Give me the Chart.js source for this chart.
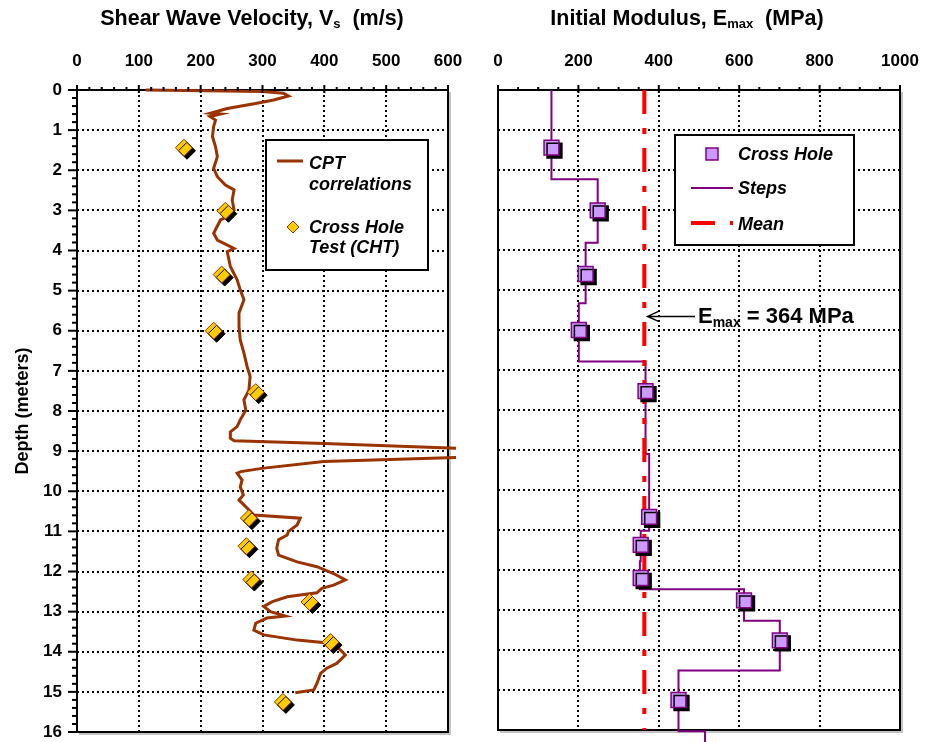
<!DOCTYPE html>
<html>
<head>
<meta charset="utf-8">
<title>Shear wave velocity and initial modulus vs depth</title>
<script src="https://cdn.jsdelivr.net/npm/chart.js@4.4.1/dist/chart.umd.min.js"></script>
<style>
  body { margin: 0; background: #fff; font-family: "Liberation Sans", Arial, sans-serif; }
  #wrap { position: relative; width: 925px; height: 742px; overflow: hidden; }
  .title { position: absolute; top: 6px; font-weight: bold; font-size: 21.5px; line-height: 25px; white-space: nowrap; transform: translateX(-50%); color: #000; }
  .title sub { font-size: 13px; vertical-align: -3px; line-height: 0; }
  #vsChart { position: absolute; left: 0; top: 0; }
  #eChart { position: absolute; left: 470px; top: 0; }
</style>
</head>
<body>
<div id="wrap">
  <canvas id="vsChart" width="470" height="742"></canvas>
  <canvas id="eChart" width="455" height="742"></canvas>
  <div class="title" style="left:252px">Shear Wave Velocity, V<sub>s</sub>&nbsp; (m/s)</div>
  <div class="title" style="left:687px">Initial Modulus, E<sub>max</sub>&nbsp; (MPa)</div>
</div>
<script>
// CPT correlation profile (depth in m, Vs in m/s)
const cptDepth = [0.0, 0.04, 0.08, 0.15, 0.25, 0.33, 0.46, 0.58, 0.6, 0.66, 0.75, 0.91, 1.16, 1.41, 1.66, 1.95,
  2.16, 2.37, 2.49, 2.74, 2.99, 3.16, 3.24, 3.57, 3.74, 3.95, 4.03, 4.4, 4.73, 4.98, 5.23, 5.56, 5.9, 6.23,
  6.56, 6.89, 7.14, 7.48, 7.72, 7.98, 8.22, 8.39, 8.52, 8.68, 8.74, 8.81, 8.93, 9.03, 9.16, 9.26, 9.43, 9.51,
  9.55, 9.72, 9.89, 10.09, 10.22, 10.34, 10.51, 10.59, 10.67, 10.84, 11.0, 11.09, 11.21, 11.42, 11.59, 11.76,
  11.88, 12.05, 12.21, 12.34, 12.42, 12.53, 12.63, 12.75, 12.87, 13.0, 13.11, 13.16, 13.29, 13.46, 13.58,
  13.71, 13.79, 13.91, 14.08, 14.29, 14.41, 14.54, 14.79, 14.95, 15.02];
const cptVs = [111, 300, 334, 342, 318, 291, 243, 216, 232, 215, 224, 221, 219, 224, 227, 221,
  227, 240, 254, 251, 254, 243, 232, 221, 227, 254, 243, 248, 259, 264, 270, 262, 262, 264,
  270, 275, 280, 278, 270, 273, 264, 259, 248, 248, 254, 399, 614, 680, 614, 399, 299, 265,
  259, 267, 264, 269, 262, 270, 281, 286, 361, 356, 342, 340, 326, 323, 326, 356,
  388, 415, 434, 415, 396, 388, 340, 316, 302, 313, 337, 307, 289, 286, 302,
  356, 410, 423, 434, 420, 404, 394, 388, 383, 353];

// Cross hole test results
const chtDepth = [1.44, 3.01, 4.6, 6.0, 7.53, 10.67, 11.37, 12.2, 12.76, 13.76, 15.25];
const chtVs = [173, 240, 234, 221, 289, 278, 274, 282, 376, 410, 333];
const chtEmax = [133, 248, 218, 201, 367, 376, 355, 355, 612, 701, 449];

// Step profile of Emax (layer boundaries and layer values)
const stepBreaks = [0, 2.23, 3.82, 5.33, 6.79, 9.1, 11.02, 11.78, 12.48, 13.27, 14.51, 16.03, 17];
const stepEmax = [133, 248, 218, 201, 367, 376, 355, 353, 612, 701, 449, 515];

const meanEmax = 364;
const meanDepths = [0, 16];

// annotation arrow (depth, tip value, tail value)
const noteDepth = 5.66, noteTip = 372, noteTail = 490;

Chart.defaults.font.family = '"Liberation Sans", Arial, sans-serif';
Chart.defaults.color = '#000';

const tickFont = { size: 17, weight: 'bold' };
const legendFont = 'italic bold 18px "Liberation Sans", Arial, sans-serif';

function drawDiamond(ctx, x, y, r, fill, stroke) {
  ctx.beginPath();
  ctx.moveTo(x, y - r); ctx.lineTo(x + r, y); ctx.lineTo(x, y + r); ctx.lineTo(x - r, y);
  ctx.closePath();
  ctx.fillStyle = fill; ctx.fill();
  ctx.strokeStyle = stroke; ctx.lineWidth = 1; ctx.stroke();
}

// keep the plot area fixed: drop the label padding chart.js adds around the axes
function fixBox(prop, size) {
  return s => {
    s[prop] = size;
    s.paddingLeft = 0; s.paddingRight = 0; s.paddingTop = 0; s.paddingBottom = 0;
  };
}

// frame + hand drawn tick marks (major / minor)
const axisDecor = {
  id: 'axisDecor',
  beforeDatasetsDraw(chart) {
    const { ctx, chartArea: a } = chart;
    ctx.save();
    ctx.strokeStyle = '#c4c4c4'; ctx.lineWidth = 2;
    ctx.beginPath();
    ctx.moveTo(a.right + 2, a.top + 2); ctx.lineTo(a.right + 2, a.bottom + 2); ctx.lineTo(a.left + 2, a.bottom + 2);
    ctx.stroke();
    ctx.strokeStyle = '#000'; ctx.lineWidth = 2;
    ctx.strokeRect(a.left, a.top, a.right - a.left, a.bottom - a.top);
    ctx.restore();
  },
  afterDraw(chart, args, opts) {
    const { ctx, chartArea: a, scales } = chart;
    ctx.save();
    ctx.strokeStyle = '#000'; ctx.lineWidth = 2;
    const x = scales.x;
    for (let v = x.min; v <= x.max + 1e-6; v += opts.xMinor) {
      const major = Math.abs(v / opts.xMajor - Math.round(v / opts.xMajor)) < 1e-6;
      const px = x.getPixelForValue(v);
      ctx.beginPath();
      ctx.moveTo(px, a.top - (major ? 5 : 3));
      ctx.lineTo(px, a.top + (major ? 3 : 1));
      ctx.stroke();
    }
    if (opts.yMinor) {
      const y = scales.y;
      for (let v = y.min; v <= y.max + 1e-6; v += opts.yMinor) {
        const major = Math.abs(v - Math.round(v)) < 1e-6;
        const py = y.getPixelForValue(v);
        ctx.beginPath();
        ctx.moveTo(a.left - (major ? 9 : 5), py);
        ctx.lineTo(a.left, py);
        ctx.stroke();
      }
    }
    ctx.restore();
  }
};

// solid black drop shadow behind the markers
const markShadow = {
  id: 'markShadow',
  beforeDatasetDraw(chart, args) {
    if (chart.data.datasets[args.index].dropShadow) {
      const ctx = chart.ctx;
      ctx.save();
      ctx.shadowColor = '#000'; ctx.shadowOffsetX = 3; ctx.shadowOffsetY = 3; ctx.shadowBlur = 0;
    }
  },
  afterDatasetDraw(chart, args) {
    if (chart.data.datasets[args.index].dropShadow) chart.ctx.restore();
  }
};

const vsLegend = {
  id: 'vsLegend',
  afterDatasetsDraw(chart) {
    const { ctx, chartArea: a } = chart;
    const bx = a.left + 189, by = a.top + 50;
    ctx.save();
    ctx.fillStyle = '#fff'; ctx.fillRect(bx, by, 162, 130);
    ctx.strokeStyle = '#000'; ctx.lineWidth = 2; ctx.strokeRect(bx, by, 162, 130);
    ctx.strokeStyle = '#993300'; ctx.lineWidth = 3;
    ctx.beginPath(); ctx.moveTo(bx + 11, by + 21); ctx.lineTo(bx + 37, by + 21); ctx.stroke();
    drawDiamond(ctx, bx + 27, by + 87, 6, '#FFCC00', '#993300');
    ctx.fillStyle = '#000'; ctx.font = legendFont; ctx.textBaseline = 'alphabetic';
    ctx.fillText('CPT', bx + 43, by + 29);
    ctx.fillText('correlations', bx + 43, by + 50);
    ctx.fillText('Cross Hole', bx + 43, by + 93);
    ctx.fillText('Test (CHT)', bx + 43, by + 113);
    ctx.restore();
  }
};

const eLegend = {
  id: 'eLegend',
  afterDatasetsDraw(chart) {
    const { ctx, chartArea: a } = chart;
    const bx = a.left + 177, by = a.top + 45;
    ctx.save();
    ctx.fillStyle = '#fff'; ctx.fillRect(bx, by, 179, 110);
    ctx.strokeStyle = '#000'; ctx.lineWidth = 2; ctx.strokeRect(bx, by, 179, 110);
    ctx.fillStyle = '#CC99FF'; ctx.fillRect(bx + 31, by + 13, 12, 12);
    ctx.strokeStyle = '#800080'; ctx.lineWidth = 1.5; ctx.strokeRect(bx + 31, by + 13, 12, 12);
    ctx.strokeStyle = '#800080'; ctx.lineWidth = 2;
    ctx.beginPath(); ctx.moveTo(bx + 16, by + 53); ctx.lineTo(bx + 58, by + 53); ctx.stroke();
    ctx.strokeStyle = '#FF0000'; ctx.lineWidth = 4;
    ctx.beginPath(); ctx.moveTo(bx + 16, by + 88); ctx.lineTo(bx + 40, by + 88);
    ctx.moveTo(bx + 55, by + 88); ctx.lineTo(bx + 58, by + 88); ctx.stroke();
    ctx.fillStyle = '#000'; ctx.font = legendFont; ctx.textBaseline = 'alphabetic';
    ctx.fillText('Cross Hole', bx + 63, by + 25);
    ctx.fillText('Steps', bx + 63, by + 59);
    ctx.fillText('Mean', bx + 63, by + 95);
    ctx.restore();
  }
};

const meanNote = {
  id: 'meanNote',
  afterDatasetsDraw(chart) {
    const { ctx, scales: { x, y } } = chart;
    const py = y.getPixelForValue(noteDepth);
    const tip = x.getPixelForValue(noteTip), tail = x.getPixelForValue(noteTail);
    ctx.save();
    ctx.strokeStyle = '#000'; ctx.lineWidth = 1.5;
    ctx.beginPath();
    ctx.moveTo(tail, py); ctx.lineTo(tip, py);
    ctx.moveTo(tip + 11, py - 5); ctx.lineTo(tip, py); ctx.lineTo(tip + 11, py + 5);
    ctx.stroke();
    ctx.fillStyle = '#000'; ctx.textBaseline = 'alphabetic';
    let tx = tail + 3;
    ctx.font = 'bold 22px "Liberation Sans", Arial, sans-serif';
    ctx.fillText('E', tx, py + 7);
    tx += ctx.measureText('E').width;
    ctx.font = 'bold 14px "Liberation Sans", Arial, sans-serif';
    ctx.fillText('max', tx, py + 11);
    tx += ctx.measureText('max').width;
    ctx.font = 'bold 22px "Liberation Sans", Arial, sans-serif';
    ctx.fillText(' = ' + meanEmax + ' MPa', tx, py + 7);
    ctx.restore();
  }
};

function gridOpts() {
  return { color: '#000', lineWidth: 2, drawTicks: false };
}
const dotted = { display: false, dash: [2, 3] };
const plainNumber = v => String(v);

new Chart(document.getElementById('vsChart'), {
  type: 'scatter',
  data: {
    datasets: [{
      label: 'Cross Hole Test (CHT)',
      data: chtDepth.map((d, i) => ({ x: chtVs[i], y: d })),
      pointStyle: 'rectRot',
      pointRadius: 8.5,
      backgroundColor: '#FFCC00',
      borderColor: '#993300',
      borderWidth: 1,
      dropShadow: true,
      order: 0
    }, {
      label: 'CPT correlations',
      data: cptDepth.map((d, i) => ({ x: cptVs[i], y: d })),
      showLine: true,
      borderColor: '#993300',
      borderWidth: 3,
      pointRadius: 0,
      tension: 0,
      clip: 8,
      order: 1
    }]
  },
  options: {
    responsive: false,
    animation: false,
    layout: { padding: { left: 0, top: 0, right: 22, bottom: 10 } },
    plugins: {
      legend: { display: false },
      tooltip: { enabled: false },
      axisDecor: { xMinor: 20, xMajor: 100, yMinor: 0.2 }
    },
    scales: {
      x: {
        type: 'linear', position: 'top', min: 0, max: 600,
        ticks: { stepSize: 100, padding: 18, font: tickFont, color: '#000', callback: plainNumber },
        grid: gridOpts(), border: dotted,
        afterFit: fixBox('height', 90)
      },
      y: {
        type: 'linear', reverse: true, min: 0, max: 16,
        ticks: { stepSize: 1, padding: 15, font: tickFont, color: '#000', callback: plainNumber },
        grid: gridOpts(), border: dotted,
        title: { display: true, text: 'Depth (meters)', color: '#000', font: { size: 18, weight: 'bold' }, padding: { top: 12, bottom: 0 } },
        afterFit: fixBox('width', 77)
      }
    }
  },
  plugins: [axisDecor, markShadow, vsLegend]
});

const stepPoints = [];
stepEmax.forEach((v, i) => {
  stepPoints.push({ x: v, y: stepBreaks[i] }, { x: v, y: stepBreaks[i + 1] });
});

new Chart(document.getElementById('eChart'), {
  type: 'scatter',
  data: {
    datasets: [{
      label: 'Cross Hole',
      data: chtDepth.map((d, i) => ({ x: chtEmax[i], y: d })),
      pointStyle: 'rect',
      pointRadius: 10.5,
      backgroundColor: '#CC99FF',
      borderColor: '#800080',
      borderWidth: 1.5,
      dropShadow: true,
      order: 0
    }, {
      label: 'Mean',
      data: meanDepths.map(d => ({ x: meanEmax, y: d })),
      showLine: true,
      borderColor: '#FF0000',
      borderWidth: 4,
      borderDash: [24, 14, 6, 14],
      pointRadius: 0,
      order: 1
    }, {
      label: 'Steps',
      data: stepPoints,
      showLine: true,
      borderColor: '#800080',
      borderWidth: 2,
      pointRadius: 0,
      tension: 0,
      clip: { left: 0, top: 0, right: 0, bottom: false },
      order: 2
    }]
  },
  options: {
    responsive: false,
    animation: false,
    layout: { padding: { left: 0, top: 0, right: 25, bottom: 10 } },
    plugins: {
      legend: { display: false },
      tooltip: { enabled: false },
      axisDecor: { xMinor: 50, xMajor: 200, yMinor: 0 }
    },
    scales: {
      x: {
        type: 'linear', position: 'top', min: 0, max: 1000,
        ticks: { stepSize: 200, padding: 18, font: tickFont, color: '#000', callback: plainNumber },
        grid: gridOpts(), border: dotted,
        afterFit: fixBox('height', 90)
      },
      y: {
        type: 'linear', reverse: true, min: 0, max: 16,
        ticks: { stepSize: 1, display: false },
        grid: gridOpts(), border: dotted,
        afterFit: fixBox('width', 28)
      }
    }
  },
  plugins: [axisDecor, markShadow, eLegend, meanNote]
});
</script>
</body>
</html>
